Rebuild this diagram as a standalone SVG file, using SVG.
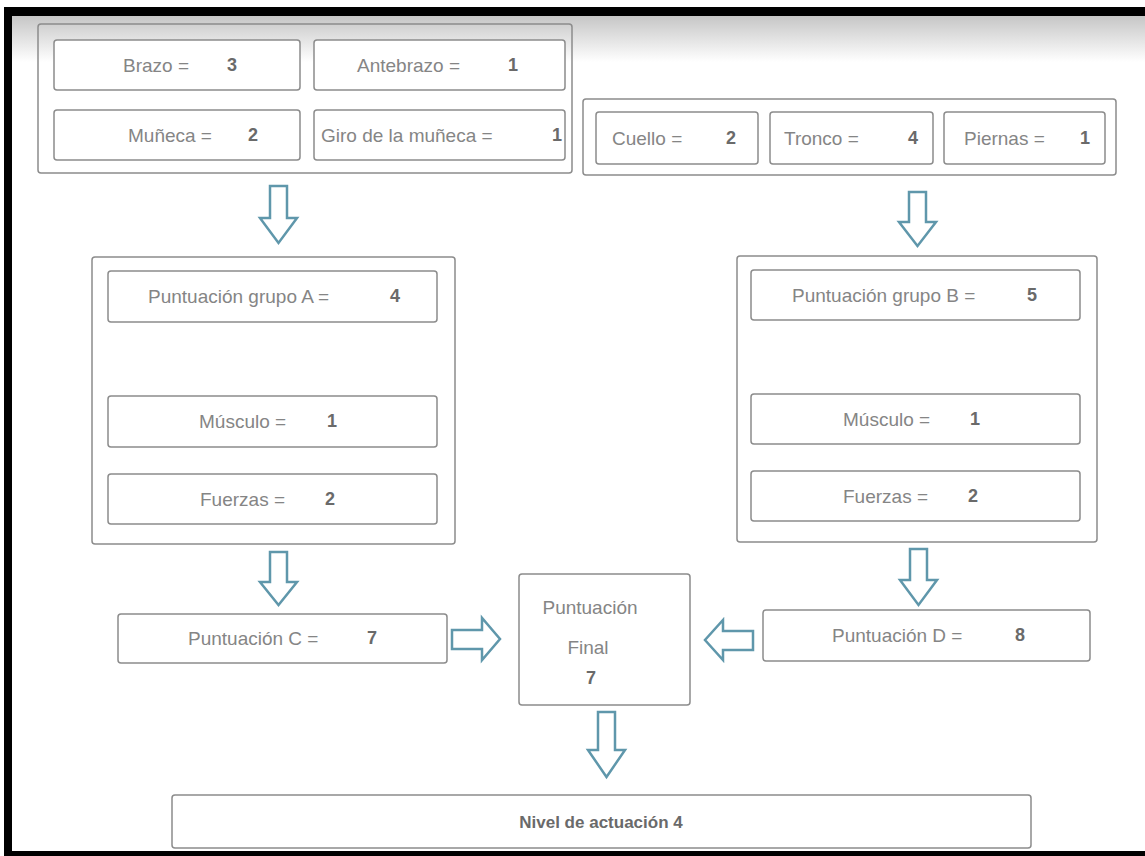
<svg xmlns="http://www.w3.org/2000/svg" width="1145" height="856" viewBox="0 0 1145 856">
<defs>
<linearGradient id="topg" x1="0" y1="0" x2="0" y2="1">
<stop offset="0" stop-color="#c6c6c6"/>
<stop offset="1" stop-color="#ffffff"/>
</linearGradient>
<style>
.box{fill:#fff;stroke:#8c8c8c;stroke-width:1.5}
.grp{fill:none;stroke:#8c8c8c;stroke-width:1.5}
.lbl{font-family:"Liberation Sans",Arial,sans-serif;font-size:19px;fill:#858585}
.num{font-family:"Liberation Sans",Arial,sans-serif;font-size:18px;font-weight:bold;fill:#6a6a6a;text-anchor:middle}
.arr{fill:#fff;stroke:#5f97ab;stroke-width:2.5;stroke-linejoin:miter}
</style>
</defs>
<rect x="0" y="0" width="1145" height="856" fill="#fff"/>
<rect x="12" y="16" width="1133" height="46" fill="url(#topg)"/>
<!-- frame -->
<rect x="4" y="7" width="1141" height="9" fill="#000"/>
<rect x="4" y="7" width="8" height="849" fill="#000"/>
<rect x="4" y="851" width="1141" height="5" fill="#000"/>

<g id="grupoA-entrada">
<rect class="grp" x="38" y="24" width="534" height="149" rx="3"/>
<g id="brazo"><rect class="box" x="54" y="40" width="246" height="50" rx="3"/><text class="lbl" x="123" y="72">Brazo =</text><text class="num" x="232" y="71">3</text></g>
<g id="antebrazo"><rect class="box" x="314" y="40" width="251" height="50" rx="3"/><text class="lbl" x="357" y="72">Antebrazo =</text><text class="num" x="513" y="71">1</text></g>
<g id="muneca"><rect class="box" x="54" y="110" width="246" height="50" rx="3"/><text class="lbl" x="128" y="142">Muñeca =</text><text class="num" x="253" y="141">2</text></g>
<g id="giro"><rect class="box" x="314" y="110" width="251" height="50" rx="3"/><text class="lbl" x="321" y="142">Giro de la muñeca =</text><text class="num" x="557" y="141">1</text></g>
</g>

<g id="grupoB-entrada">
<rect class="grp" x="583" y="99" width="533" height="76" rx="3"/>
<g id="cuello"><rect class="box" x="596" y="112" width="162" height="52" rx="3"/><text class="lbl" x="612" y="145">Cuello =</text><text class="num" x="731" y="144">2</text></g>
<g id="tronco"><rect class="box" x="770" y="112" width="163" height="52" rx="3"/><text class="lbl" x="784" y="145">Tronco =</text><text class="num" x="913" y="144">4</text></g>
<g id="piernas"><rect class="box" x="944" y="112" width="161" height="52" rx="3"/><text class="lbl" x="964" y="145">Piernas =</text><text class="num" x="1085" y="144">1</text></g>
</g>

<g id="grupoA">
<rect class="grp" x="92" y="257" width="363" height="287" rx="3"/>
<g id="puntA"><rect class="box" x="108" y="271" width="329" height="51" rx="3"/><text class="lbl" x="148" y="303">Puntuación grupo A =</text><text class="num" x="395" y="302">4</text></g>
<g id="musculoA"><rect class="box" x="108" y="396" width="329" height="51" rx="3"/><text class="lbl" x="199" y="428">Músculo =</text><text class="num" x="332" y="427">1</text></g>
<g id="fuerzasA"><rect class="box" x="108" y="474" width="329" height="50" rx="3"/><text class="lbl" x="200" y="506">Fuerzas =</text><text class="num" x="330" y="505">2</text></g>
</g>

<g id="grupoB">
<rect class="grp" x="737" y="256" width="360" height="286" rx="3"/>
<g id="puntB"><rect class="box" x="751" y="270" width="329" height="50" rx="3"/><text class="lbl" x="792" y="302">Puntuación grupo B =</text><text class="num" x="1032" y="301">5</text></g>
<g id="musculoB"><rect class="box" x="751" y="394" width="329" height="50" rx="3"/><text class="lbl" x="843" y="426">Músculo =</text><text class="num" x="975" y="425">1</text></g>
<g id="fuerzasB"><rect class="box" x="751" y="471" width="329" height="50" rx="3"/><text class="lbl" x="843" y="503">Fuerzas =</text><text class="num" x="973" y="502">2</text></g>
</g>

<g id="puntC"><rect class="box" x="118" y="614" width="329" height="49" rx="3"/><text class="lbl" x="188" y="645">Puntuación C =</text><text class="num" x="372" y="644">7</text></g>
<g id="final"><rect class="box" x="519" y="574" width="171" height="131" rx="3"/>
<text class="lbl" x="590" y="614" text-anchor="middle">Puntuación</text>
<text class="lbl" x="588" y="654" text-anchor="middle">Final</text>
<text class="num" x="591" y="684">7</text></g>
<g id="puntD"><rect class="box" x="763" y="610" width="327" height="51" rx="3"/><text class="lbl" x="832" y="642">Puntuación D =</text><text class="num" x="1020" y="641">8</text></g>
<g id="nivel"><rect class="box" x="172" y="795" width="859" height="53" rx="3"/><text class="num" x="601" y="828" style="font-size:17px">Nivel de actuación 4</text></g>

<g id="connectors">
<path class="arr" d="M270,186 H287 V218 H297 L278.5,243 L260,218 H270 Z"/>
<path class="arr" d="M909,192 H926 V222 H936 L917.5,246 L899,222 H909 Z"/>
<path class="arr" d="M270,552 H287 V582 H297 L278.5,605 L260,582 H270 Z"/>
<path class="arr" d="M910,549 H927 V580 H937 L918.5,605 L900,580 H910 Z"/>
<path class="arr" d="M452,630 H482 V618 L500,639 L482,660 V649 H452 Z"/>
<path class="arr" d="M753,631 H723 V620 L705,640 L723,660 V650 H753 Z"/>
<path class="arr" d="M598,712 H615 V750 H625 L606.5,777 L588,750 H598 Z"/>
</g>
</svg>
